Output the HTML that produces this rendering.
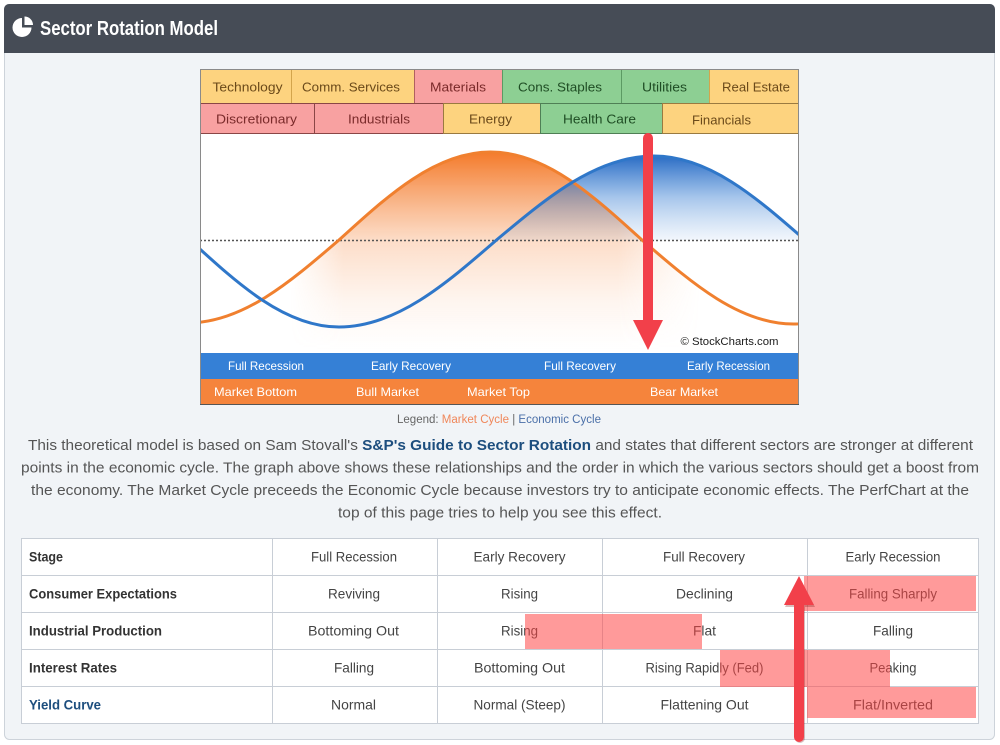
<!DOCTYPE html>
<html><head><meta charset="utf-8"><style>
html,body{margin:0;padding:0;background:#fff;width:1000px;height:745px;overflow:hidden}
svg{display:block}
text{font-family:"Liberation Sans",sans-serif}
</style></head><body>
<svg width="1000" height="745" viewBox="0 0 1000 745" xmlns="http://www.w3.org/2000/svg">
<defs>
<clipPath id="cc"><rect x="201" y="133" width="597" height="220"/></clipPath>
<linearGradient id="og" gradientUnits="userSpaceOnUse" x1="0" y1="152" x2="0" y2="350">
<stop offset="0" stop-color="#f47a2a" stop-opacity="1"/>
<stop offset="0.25" stop-color="#f5843a" stop-opacity="0.6"/>
<stop offset="0.45" stop-color="#f68e4a" stop-opacity="0.3"/>
<stop offset="0.75" stop-color="#f89a5a" stop-opacity="0.1"/>
<stop offset="1" stop-color="#fbb080" stop-opacity="0"/>
</linearGradient>
<linearGradient id="hm" gradientUnits="userSpaceOnUse" x1="290" y1="0" x2="700" y2="0">
<stop offset="0" stop-color="#000"/>
<stop offset="0.13" stop-color="#fff"/>
<stop offset="0.8" stop-color="#fff"/>
<stop offset="1" stop-color="#000"/>
</linearGradient>
<mask id="om" maskUnits="userSpaceOnUse" x="190" y="130" width="620" height="230">
<rect x="190" y="130" width="620" height="230" fill="url(#hm)"/>
</mask>
<linearGradient id="bg" gradientUnits="userSpaceOnUse" x1="0" y1="156" x2="0" y2="248">
<stop offset="0" stop-color="#2a6cc4" stop-opacity="1"/>
<stop offset="0.45" stop-color="#3a7fd3" stop-opacity="0.45"/>
<stop offset="1" stop-color="#6fa3e0" stop-opacity="0.02"/>
</linearGradient>
</defs>

<!-- panel -->
<rect x="4.5" y="4.5" width="990" height="735" rx="5" fill="#f1f4f7" stroke="#cdd3da"/>
<path d="M4,53 V9 A5,5 0 0 1 9,4 H990 A5,5 0 0 1 995,9 V53 Z" fill="#464c56"/>
<!-- icon -->
<path d="M22,27.5 L22,18 A9.5,9.5 0 1 0 31.5,27.5 Z" fill="#fff"/>
<path d="M24.5,25 L24.5,16.5 A8.5,8.5 0 0 1 33,25 Z" fill="#fff"/>
<text x="40" y="35" font-size="20" font-weight="bold" fill="#fff" textLength="178" lengthAdjust="spacingAndGlyphs" style="font-family:'Liberation Sans Narrow','Liberation Sans',sans-serif">Sector Rotation Model</text>

<!-- chart graphic -->
<rect x="200" y="69" width="599" height="336" fill="#fff"/>
<g stroke-width="1">
<rect x="200.5" y="69.5" width="91" height="34" fill="#fdd37f" stroke="#d3a54c"/>
<rect x="291.5" y="69.5" width="123" height="34" fill="#fdd37f" stroke="#d3a54c"/>
<rect x="414.5" y="69.5" width="88" height="34" fill="#f8a1a1" stroke="#b06060"/>
<rect x="502.5" y="69.5" width="119" height="34" fill="#8dcf93" stroke="#5c9a63"/>
<rect x="621.5" y="69.5" width="88" height="34" fill="#8dcf93" stroke="#5c9a63"/>
<rect x="709.5" y="69.5" width="89" height="34" fill="#fdd37f" stroke="#d3a54c"/>
<rect x="200.5" y="103.5" width="114" height="30" fill="#f8a1a1" stroke="#8a4646"/>
<rect x="314.5" y="103.5" width="129" height="30" fill="#f8a1a1" stroke="#8a4646"/>
<rect x="443.5" y="103.5" width="97" height="30" fill="#fdd37f" stroke="#9a7a40"/>
<rect x="540.5" y="103.5" width="122" height="30" fill="#8dcf93" stroke="#4f7f55"/>
<rect x="662.5" y="103.5" width="136" height="30" fill="#fdd37f" stroke="#9a7a40"/>
</g>
<g font-size="13">
<text x="247.5" y="91.5" text-anchor="middle" fill="#6b4a1a" textLength="70" lengthAdjust="spacingAndGlyphs">Technology</text>
<text x="351" y="91.5" text-anchor="middle" fill="#6b4a1a" textLength="98" lengthAdjust="spacingAndGlyphs">Comm. Services</text>
<text x="458" y="91.5" text-anchor="middle" fill="#7a2a2a" textLength="56" lengthAdjust="spacingAndGlyphs">Materials</text>
<text x="560" y="91.5" text-anchor="middle" fill="#1f4d24" textLength="84" lengthAdjust="spacingAndGlyphs">Cons. Staples</text>
<text x="664.5" y="91.5" text-anchor="middle" fill="#1f4d24" textLength="45" lengthAdjust="spacingAndGlyphs">Utilities</text>
<text x="756" y="91.5" text-anchor="middle" fill="#6b4a1a" textLength="68" lengthAdjust="spacingAndGlyphs">Real Estate</text>
<text x="256.5" y="123.5" text-anchor="middle" fill="#7a2a2a" textLength="81" lengthAdjust="spacingAndGlyphs">Discretionary</text>
<text x="379" y="123.5" text-anchor="middle" fill="#7a2a2a" textLength="62" lengthAdjust="spacingAndGlyphs">Industrials</text>
<text x="490.5" y="123.5" text-anchor="middle" fill="#6b4a1a" textLength="43" lengthAdjust="spacingAndGlyphs">Energy</text>
<text x="599.5" y="123.5" text-anchor="middle" fill="#1f4d24" textLength="73" lengthAdjust="spacingAndGlyphs">Health Care</text>
<text x="721.5" y="124.5" text-anchor="middle" fill="#6b4a1a" textLength="59" lengthAdjust="spacingAndGlyphs">Financials</text>
</g>

<!-- curves -->
<g clip-path="url(#cc)">
<path d="M187.5,323 C242.3,323 289.5,282.6 339,240 C388.5,194.9 435.7,152 490.5,152 C545.3,152 592.5,194.9 642,240 C691.5,282.6 738.7,324 793.5,324 L793.5,353 L187.5,353 Z" fill="url(#og)" mask="url(#om)"/>
<path d="M496.5,240 C547.9,196.9 597,156 654,156 C708.7,156 755.7,196.9 805,240 Z" fill="url(#bg)"/>
<line x1="200" y1="240.5" x2="799" y2="240.5" stroke="#555" stroke-width="1.5" stroke-dasharray="2 2"/>
<path d="M187.5,323 C242.3,323 289.5,282.6 339,240 C388.5,194.9 435.7,152 490.5,152 C545.3,152 592.5,194.9 642,240 C691.5,282.6 738.7,324 793.5,324 C848.3,324 895.5,282.6 945,240" fill="none" stroke="#f0802f" stroke-width="3"/>
<path d="M190,240 C238.6,284.6 285.1,327 339,327 C396,327 445.1,284.6 496.5,240 C547.9,196.9 597,156 654,156 C708.7,156 755.7,196.9 805,240" fill="none" stroke="#2f77c9" stroke-width="3"/>
</g>
<text x="729.5" y="345" text-anchor="middle" font-size="11" fill="#1a1a1a" textLength="98" lengthAdjust="spacingAndGlyphs">© StockCharts.com</text>
<!-- arrow 1 -->
<rect x="643" y="133" width="10" height="192" rx="5" fill="#f2404a"/>
<polygon points="633,320 663,320 648,350" fill="#f2404a"/>

<!-- bands -->
<rect x="200" y="353" width="599" height="26" fill="#3580d6"/>
<rect x="200" y="379" width="599" height="26" fill="#f5843c"/>
<rect x="200.5" y="69.5" width="598" height="335" fill="none" stroke="#8a8a8a"/>
<line x1="200" y1="404.5" x2="799" y2="404.5" stroke="#555"/>
<g font-size="12" fill="#fff">
<text x="266" y="370" text-anchor="middle" textLength="76" lengthAdjust="spacingAndGlyphs">Full Recession</text>
<text x="411" y="370" text-anchor="middle" textLength="80" lengthAdjust="spacingAndGlyphs">Early Recovery</text>
<text x="580" y="370" text-anchor="middle" textLength="72" lengthAdjust="spacingAndGlyphs">Full Recovery</text>
<text x="728.5" y="370" text-anchor="middle" textLength="83" lengthAdjust="spacingAndGlyphs">Early Recession</text>
<text x="255.5" y="396" text-anchor="middle" textLength="83" lengthAdjust="spacingAndGlyphs">Market Bottom</text>
<text x="387.5" y="396" text-anchor="middle" textLength="63" lengthAdjust="spacingAndGlyphs">Bull Market</text>
<text x="498.5" y="396" text-anchor="middle" textLength="63" lengthAdjust="spacingAndGlyphs">Market Top</text>
<text x="684" y="396" text-anchor="middle" textLength="68" lengthAdjust="spacingAndGlyphs">Bear Market</text>
</g>

<!-- legend -->
<text x="499" y="423" text-anchor="middle" font-size="11.5" fill="#666" textLength="204" lengthAdjust="spacingAndGlyphs">Legend: <tspan fill="#f0875a">Market Cycle</tspan> | <tspan fill="#4a6fa8">Economic Cycle</tspan></text>

<!-- paragraph -->
<g font-size="15" fill="#555" text-anchor="middle">
<text x="500.5" y="450" textLength="945" lengthAdjust="spacingAndGlyphs">This theoretical model is based on Sam Stovall's <tspan font-weight="bold" fill="#1d4e7e">S&amp;P's Guide to Sector Rotation</tspan> and states that different sectors are stronger at different</text>
<text x="500" y="472.5" textLength="958" lengthAdjust="spacingAndGlyphs">points in the economic cycle. The graph above shows these relationships and the order in which the various sectors should get a boost from</text>
<text x="500" y="495" textLength="938" lengthAdjust="spacingAndGlyphs">the economy. The Market Cycle preceeds the Economic Cycle because investors try to anticipate economic effects. The PerfChart at the</text>
<text x="500" y="517.5" textLength="324" lengthAdjust="spacingAndGlyphs">top of this page tries to help you see this effect.</text>
</g>

<!-- table -->
<rect x="21" y="538" width="957" height="185" fill="#fff"/>
<g stroke="#c8ced6" stroke-width="1" fill="none">
<rect x="21.5" y="538.5" width="957" height="185"/>
<line x1="21" y1="575.5" x2="978" y2="575.5"/>
<line x1="21" y1="612.5" x2="978" y2="612.5"/>
<line x1="21" y1="649.5" x2="978" y2="649.5"/>
<line x1="21" y1="686.5" x2="978" y2="686.5"/>
<line x1="272.5" y1="538" x2="272.5" y2="723"/>
<line x1="437.5" y1="538" x2="437.5" y2="723"/>
<line x1="602.5" y1="538" x2="602.5" y2="723"/>
<line x1="807.5" y1="538" x2="807.5" y2="723"/>
</g>
<g font-size="14" font-weight="bold" fill="#333">
<text x="29" y="561.5" textLength="34" lengthAdjust="spacingAndGlyphs">Stage</text>
<text x="29" y="598.5" textLength="148" lengthAdjust="spacingAndGlyphs">Consumer Expectations</text>
<text x="29" y="635.5" textLength="133" lengthAdjust="spacingAndGlyphs">Industrial Production</text>
<text x="29" y="672.5" textLength="88" lengthAdjust="spacingAndGlyphs">Interest Rates</text>
<text x="29" y="709.5" textLength="72" lengthAdjust="spacingAndGlyphs" fill="#1d4e7e">Yield Curve</text>
</g>
<g font-size="14" fill="#444" text-anchor="middle">
<text x="354" y="561.5" textLength="86" lengthAdjust="spacingAndGlyphs">Full Recession</text>
<text x="519.5" y="561.5" textLength="92" lengthAdjust="spacingAndGlyphs">Early Recovery</text>
<text x="704" y="561.5" textLength="82" lengthAdjust="spacingAndGlyphs">Full Recovery</text>
<text x="893" y="561.5" textLength="95" lengthAdjust="spacingAndGlyphs">Early Recession</text>
<text x="354" y="598.5" textLength="52" lengthAdjust="spacingAndGlyphs">Reviving</text>
<text x="519.5" y="598.5" textLength="37" lengthAdjust="spacingAndGlyphs">Rising</text>
<text x="704.5" y="598.5" textLength="57" lengthAdjust="spacingAndGlyphs">Declining</text>
<text x="893" y="598.5" textLength="88" lengthAdjust="spacingAndGlyphs">Falling Sharply</text>
<text x="353.5" y="635.5" textLength="91" lengthAdjust="spacingAndGlyphs">Bottoming Out</text>
<text x="519.5" y="635.5" textLength="37" lengthAdjust="spacingAndGlyphs">Rising</text>
<text x="704.5" y="635.5" textLength="23" lengthAdjust="spacingAndGlyphs">Flat</text>
<text x="893" y="635.5" textLength="40" lengthAdjust="spacingAndGlyphs">Falling</text>
<text x="354" y="672.5" textLength="40" lengthAdjust="spacingAndGlyphs">Falling</text>
<text x="519.5" y="672.5" textLength="91" lengthAdjust="spacingAndGlyphs">Bottoming Out</text>
<text x="704.5" y="672.5" textLength="118" lengthAdjust="spacingAndGlyphs">Rising Rapidly (Fed)</text>
<text x="893" y="672.5" textLength="47" lengthAdjust="spacingAndGlyphs">Peaking</text>
<text x="353.5" y="709.5" textLength="45" lengthAdjust="spacingAndGlyphs">Normal</text>
<text x="519.5" y="709.5" textLength="92" lengthAdjust="spacingAndGlyphs">Normal (Steep)</text>
<text x="704.5" y="709.5" textLength="88" lengthAdjust="spacingAndGlyphs">Flattening Out</text>
<text x="893" y="709.5" textLength="80" lengthAdjust="spacingAndGlyphs">Flat/Inverted</text>
</g>
<!-- highlights -->
<g fill="#f44" fill-opacity="0.54">
<rect x="804" y="576" width="172" height="35"/>
<rect x="525" y="614" width="177" height="35"/>
<rect x="720" y="650" width="170" height="37"/>
<rect x="807" y="687" width="169" height="31"/>
</g>
<!-- arrow 2 -->
<g opacity="0.25" transform="translate(1,2)">
<rect x="794" y="598" width="10" height="143" rx="5" fill="#600"/>
<polygon points="784,605 814,605 799,576" fill="#600"/>
</g>
<rect x="794" y="598" width="10" height="144" rx="5" fill="#f2404a"/>
<polygon points="784,605 814,605 799,576" fill="#f2404a"/>
</svg>
</body></html>
